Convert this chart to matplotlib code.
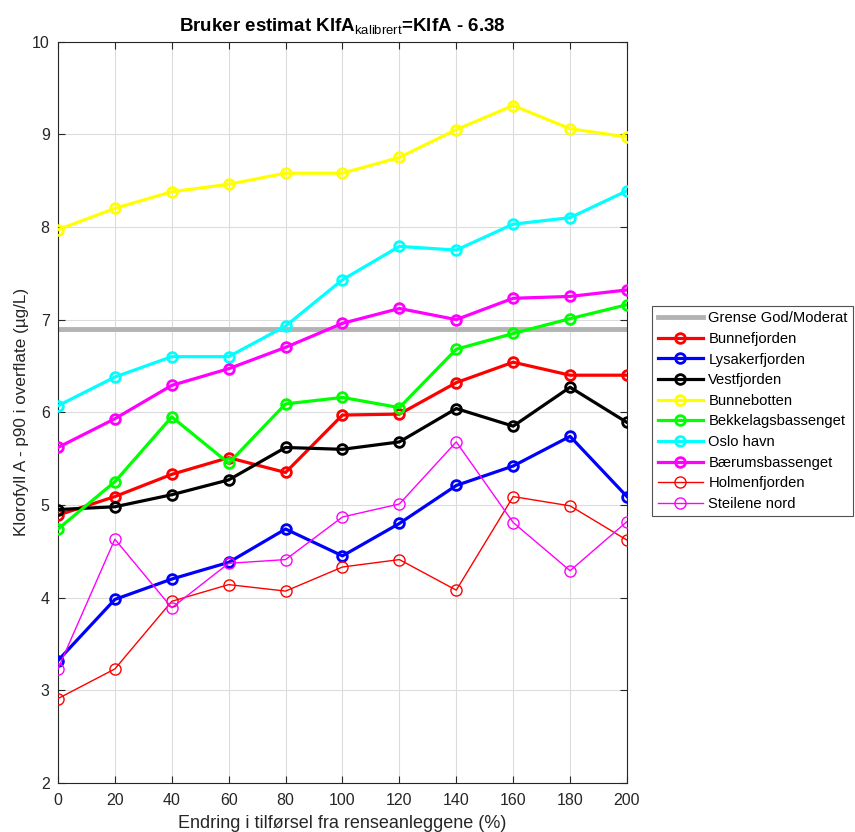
import matplotlib.pyplot as plt

plt.rcParams['font.family'] = ['Liberation Sans', 'DejaVu Sans']
plt.rcParams['mathtext.fontset'] = 'custom'
plt.rcParams['mathtext.rm'] = 'Liberation Sans'
plt.rcParams['mathtext.bf'] = 'Liberation Sans:bold'

x = [0, 20, 40, 60, 80, 100, 120, 140, 160, 180, 200]
grense = 6.90

bunnefjorden = [4.89, 5.09, 5.33, 5.51, 5.35, 5.97, 5.98, 6.32, 6.54, 6.40, 6.40]
lysakerfjorden = [3.32, 3.98, 4.20, 4.38, 4.74, 4.45, 4.80, 5.21, 5.42, 5.74, 5.09]
vestfjorden = [4.95, 4.98, 5.11, 5.27, 5.62, 5.60, 5.68, 6.04, 5.85, 6.27, 5.89]
bunnebotten = [7.97, 8.20, 8.38, 8.46, 8.58, 8.58, 8.75, 9.05, 9.31, 9.06, 8.97]
bekkelag = [4.74, 5.25, 5.95, 5.45, 6.09, 6.16, 6.05, 6.68, 6.85, 7.01, 7.16]
oslo_havn = [6.07, 6.38, 6.60, 6.60, 6.93, 7.43, 7.79, 7.75, 8.03, 8.10, 8.39]
baerum = [5.62, 5.93, 6.29, 6.47, 6.70, 6.96, 7.12, 7.00, 7.23, 7.25, 7.32]
holmenfjorden = [2.91, 3.23, 3.96, 4.14, 4.07, 4.33, 4.41, 4.08, 5.09, 4.99, 4.62]
steilene = [3.23, 4.63, 3.89, 4.37, 4.41, 4.87, 5.01, 5.68, 4.81, 4.29, 4.82]

series = [
    ("Bunnefjorden", bunnefjorden, "#ff0000", True),
    ("Lysakerfjorden", lysakerfjorden, "#0000ff", True),
    ("Vestfjorden", vestfjorden, "#000000", True),
    ("Bunnebotten", bunnebotten, "#ffff00", True),
    ("Bekkelagsbassenget", bekkelag, "#00ff00", True),
    ("Oslo havn", oslo_havn, "#00ffff", True),
    ("Bærumsbassenget", baerum, "#ff00ff", True),
    ("Holmenfjorden", holmenfjorden, "#ff0000", False),
    ("Steilene nord", steilene, "#ff00ff", False),
]

fig = plt.figure(figsize=(8.55, 8.32), dpi=100)
ax = fig.add_axes([0.0678, 0.059, 0.6655, 0.891])

ax.axhline(grense, color="#b3b3b3", linewidth=3.5, label="Grense God/Moderat", zorder=2)
for name, vals, col, thick in series:
    if thick:
        ax.plot(x, vals, color=col, linewidth=2.3, marker="o", markersize=7,
                markerfacecolor="none", markeredgewidth=2.0, label=name, zorder=3)
    else:
        ax.plot(x, vals, color=col, linewidth=1.0, marker="o", markersize=8,
                markerfacecolor="none", markeredgewidth=1.0, label=name, zorder=3)

ax.set_xlim(0, 200)
ax.set_ylim(2, 10)
ax.set_xticks(x)
ax.set_yticks(range(2, 11))
ax.tick_params(direction="in", top=True, right=True, labelsize=11.5, length=5, width=0.8,
               colors="#262626")
ax.tick_params(axis="x", pad=7)
ax.tick_params(axis="y", pad=6)
ax.grid(True, color="#dcdcdc", linewidth=0.8)
ax.set_axisbelow(True)
for s in ax.spines.values():
    s.set_color("#262626")
    s.set_linewidth(0.8)

ax.set_xlabel("Endring i tilførsel fra renseanleggene (%)", fontsize=13, color="#262626", labelpad=5)
ax.set_ylabel("Klorofyll A - p90 i overflate (µg/L)", fontsize=12.3, color="#262626", labelpad=2)
ax.set_title(r"Bruker estimat KlfA$_{\mathrm{kalibrert}}$=KlfA - 6.38",
             fontsize=13.5, fontweight="bold", pad=7)

handles, labels = ax.get_legend_handles_labels()
leg = fig.legend(handles, labels, loc="upper left", bbox_to_anchor=(0.763, 0.632),
                 fontsize=10.6, frameon=True, fancybox=False, edgecolor="#262626",
                 handlelength=3.1, handletextpad=0.35, labelspacing=0.45, borderpad=0.35,
                 borderaxespad=0)
leg.get_frame().set_linewidth(0.8)

fig.savefig("out.png", dpi=100)
